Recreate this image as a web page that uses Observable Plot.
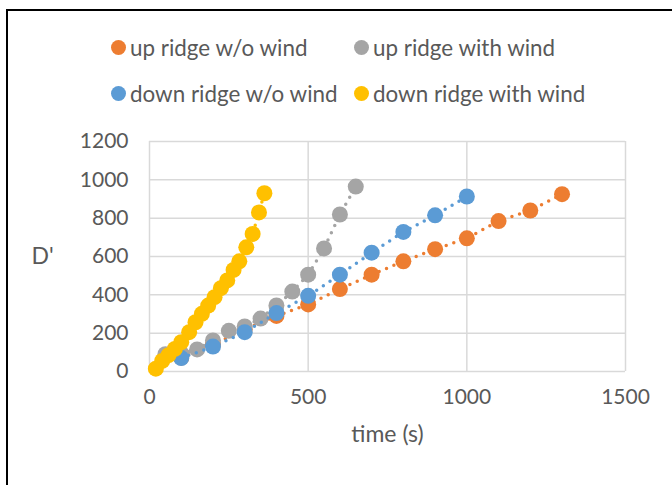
<!DOCTYPE html>
<html>
<head>
<meta charset="utf-8">
<script src="https://cdn.jsdelivr.net/npm/d3@7"></script>
<script src="https://cdn.jsdelivr.net/npm/@observablehq/plot@0.6"></script>
<style>
  body { margin: 0; background: #fff; }
  #page { position: relative; width: 672px; height: 485px; overflow: hidden; background: #fff;
          font-family: Lato, "Liberation Sans", sans-serif; color: #595959; }
  #border { position: absolute; left: 6px; top: 9px; width: 720px; height: 520px;
            border: 2px solid #000; box-sizing: border-box; }
  #legend { position: relative; height: 115px; box-sizing: border-box; padding: 24px 0 0 111px;
            display: grid; grid-template-columns: 243px auto; grid-auto-rows: 46px; align-items: center;
            font-size: 22.4px; }
  .item { display: flex; align-items: center; white-space: nowrap; }
  .swatch { width: 15px; height: 15px; border-radius: 50%; margin-right: 4px; flex: none; }
  #chart { position: relative; }
</style>
</head>
<body>
<div id="page">
  <div id="border"></div>
  <div id="legend"></div>
  <div id="chart"></div>
</div>
<script>
// Series names and colours
const seriesNames = ["up ridge w/o wind", "up ridge with wind", "down ridge w/o wind", "down ridge with wind"];
const seriesColors = ["#ED7D31", "#A5A5A5", "#5B9BD5", "#FFC000"];

// up ridge w/o wind
const upNoWindTime = [100, 200, 300, 400, 500, 600, 700, 800, 900, 1000, 1100, 1200, 1300];
const upNoWindD    = [72, 140, 220, 290, 350, 430, 505, 575, 638, 695, 785, 840, 925];

// up ridge with wind
const upWindTime = [50, 100, 150, 200, 250, 300, 350, 400, 450, 500, 550, 600, 650];
const upWindD    = [90, 95, 115, 162, 212, 235, 276, 345, 417, 505, 642, 819, 965];

// down ridge w/o wind
const downNoWindTime = [100, 200, 300, 400, 500, 600, 700, 800, 900, 1000];
const downNoWindD    = [70, 130, 205, 305, 395, 505, 620, 728, 815, 913];

// down ridge with wind
const downWindTime = [20, 40, 60, 80, 100, 125, 145, 165, 185, 205, 225, 245, 265, 283, 305, 325, 345, 362];
const downWindD    = [15, 55, 85, 118, 153, 205, 257, 301, 344, 388, 435, 475, 530, 575, 648, 718, 830, 930];

// Axis ticks
const xTicks = [0, 500, 1000, 1500];
const yTicks = [0, 200, 400, 600, 800, 1000, 1200];

const seriesTimes = [upNoWindTime, upWindTime, downNoWindTime, downWindTime];
const seriesValues = [upNoWindD, upWindD, downNoWindD, downWindD];

const rows = seriesNames.flatMap((name, i) =>
  seriesTimes[i].map((t, j) => ({series: name, time: t, d: seriesValues[i][j]}))
);

// Legend (two rows of two entries)
const legend = d3.select("#legend");
seriesNames.forEach((name, i) => {
  const item = legend.append("div").attr("class", "item");
  item.append("span").attr("class", "swatch").style("background", seriesColors[i]);
  item.append("span").text(name);
});

// Each series: dotted connecting line, then its markers on top
const seriesMarks = seriesNames.flatMap((name, i) => {
  const data = rows.filter(r => r.series === name);
  return [
    Plot.line(data, {x: "time", y: "d", stroke: seriesColors[i], strokeWidth: 3.5,
                     strokeDasharray: "0 8", strokeLinecap: "round"}),
    Plot.dot(data, {x: "time", y: "d", r: 8, fill: seriesColors[i], stroke: "none"})
  ];
});

const chart = Plot.plot({
  width: 672,
  height: 370,
  marginLeft: 149,
  marginRight: 47,
  marginTop: 26,
  marginBottom: 114,
  style: {fontFamily: "Lato, 'Liberation Sans', sans-serif", color: "#595959", background: "transparent"},
  x: {domain: [0, 1500]},
  y: {domain: [0, 1200]},
  marks: [
    Plot.gridY(yTicks, {stroke: "#d9d9d9", strokeOpacity: 1, strokeWidth: 1.5}),
    Plot.gridX(xTicks, {stroke: "#d9d9d9", strokeOpacity: 1, strokeWidth: 1.5}),
    Plot.axisX(xTicks, {tickSize: 0, tickPadding: 18, fontSize: 21, label: null, tickFormat: d3.format("d")}),
    Plot.axisY(yTicks, {tickSize: 0, tickPadding: 21, fontSize: 21, label: null, tickFormat: d3.format("d")}),
    ...seriesMarks,
    Plot.text(["D'"], {text: d => d, frameAnchor: "left", dx: -107, textAnchor: "middle", fontSize: 23, fill: "#595959"}),
    Plot.text(["time (s)"], {text: d => d, frameAnchor: "bottom", dy: 70, textAnchor: "middle", fontSize: 23, fill: "#595959"})
  ]
});
document.getElementById("chart").append(chart);
</script>
</body>
</html>
